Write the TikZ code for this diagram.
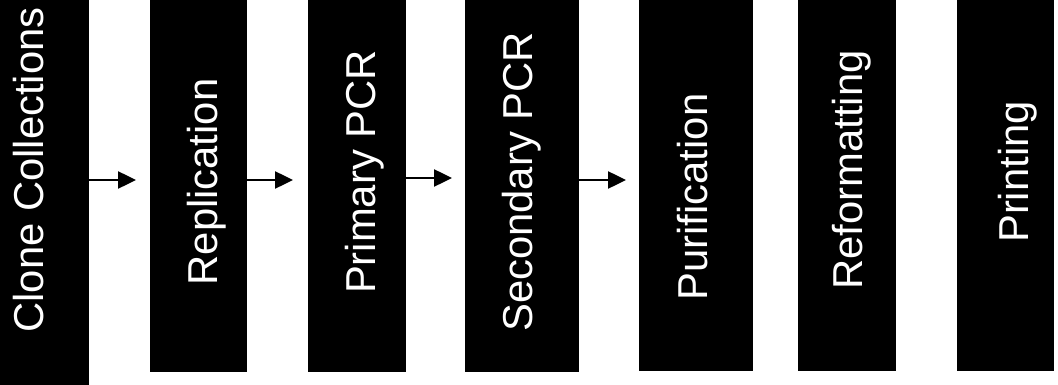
\documentclass[tikz,border=0pt]{standalone}
\usepackage{fontspec}
\setmainfont{Liberation Sans}
\usetikzlibrary{arrows.meta}
\begin{document}
\begin{tikzpicture}[x=1pt,y=-1pt,
  stagebox/.style={fill=black,draw=none,inner sep=0pt,outer sep=0pt,anchor=north west},
  stagetext/.style={text=white,rotate=90,anchor=base,inner sep=0pt,font=\fontsize{41.8}{50}\selectfont},
  flow/.style={line width=2.5pt,-{Triangle[length=18pt,width=17pt]}}]
\useasboundingbox (0,0) rectangle (1058,385);
% boxes
\node[stagebox,minimum width=89pt,minimum height=385pt] (b1) at (0,0) {};
\node[stagebox,minimum width=97pt,minimum height=372pt] (b2) at (150,0) {};
\node[stagebox,minimum width=98pt,minimum height=372pt] (b3) at (308,0) {};
\node[stagebox,minimum width=114pt,minimum height=372pt] (b4) at (465,0) {};
\node[stagebox,minimum width=114pt,minimum height=371pt] (b5) at (639,0) {};
\node[stagebox,minimum width=98pt,minimum height=371pt] (b6) at (798,0) {};
\node[stagebox,minimum width=97pt,minimum height=371pt] (b7) at (957,0) {};
% texts
\node[stagetext] (t1) at (43,170) {Clone Collections};
\node[stagetext] (t2) at (217,182) {Replication};
\node[stagetext] (t3) at (375,172) {Primary PCR};
\node[stagetext] (t4) at (532,182) {Secondary PCR};
\node[stagetext] (t5) at (707,197) {Purification};
\node[stagetext] (t6) at (862,170) {Reformatting};
\node[stagetext] (t7) at (1028,172) {Printing};
% arrow ends
\coordinate (e1) at (136,180);
\coordinate (e2) at (293,180);
\coordinate (e3) at (452,178);
\coordinate (e4) at (626,180);
\draw[flow] (b1.east |- e1) -- (e1);
\draw[flow] (b2.east |- e2) -- (e2);
\draw[flow] (b3.east |- e3) -- (e3);
\draw[flow] (b4.east |- e4) -- (e4);
\end{tikzpicture}
\end{document}
